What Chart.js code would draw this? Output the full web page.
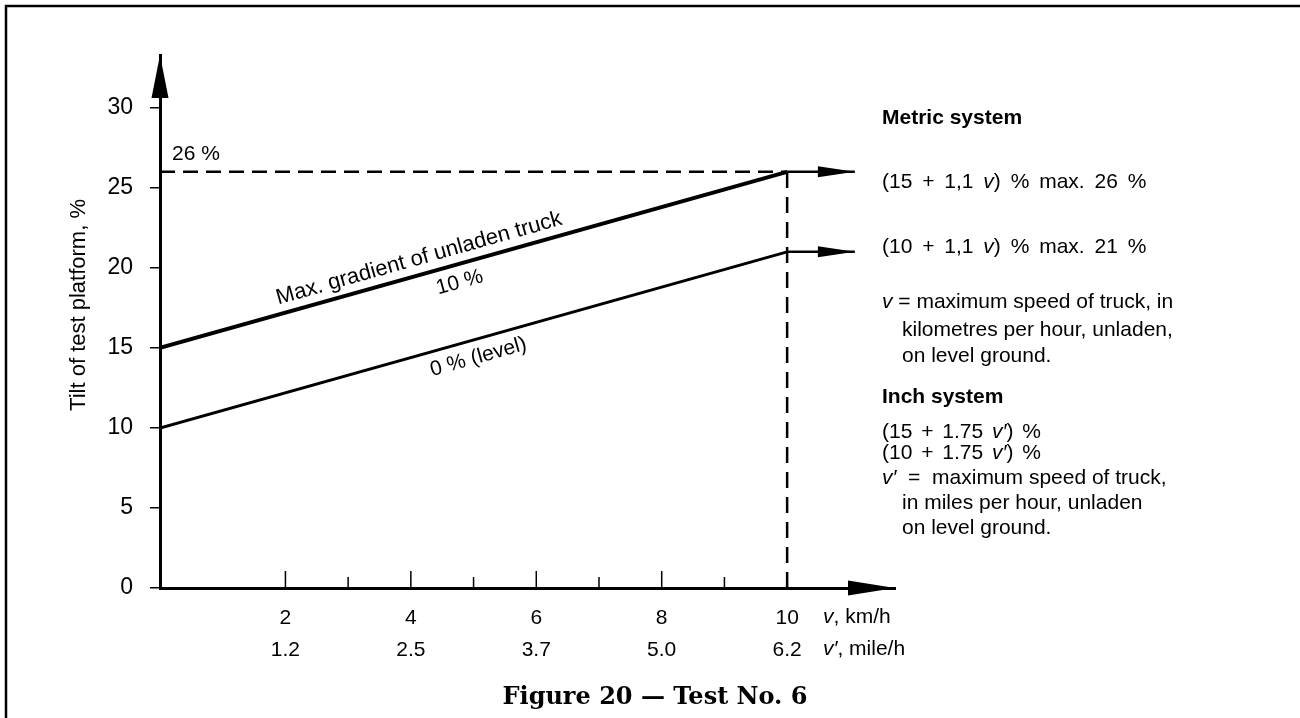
<!DOCTYPE html>
<html>
<head>
<meta charset="utf-8">
<script src="https://cdn.jsdelivr.net/npm/chart.js@4.4.0/dist/chart.umd.min.js"></script>
<style>
  html, body { margin: 0; padding: 0; background: #fff; }
  #wrap { position: relative; width: 1300px; height: 718px; }
</style>
</head>
<body>
<div id="wrap"><canvas id="tiltChart" width="1300" height="718"></canvas></div>
<script>
// speed of truck (km/h) against required tilt of the test platform (%)
const speedKmh = [0, 10];
const tiltMaxGradient = [15, 26];   // (15 + 1,1 v) %, max. 26 %
const tiltLevel = [10, 21];         // (10 + 1,1 v) %, max. 21 %
const capTilt = 26;
const arrowEndKmh = 11.08;          // the horizontal arrows run out to here

// axis ticks: km/h on the first row, mile/h on the second
const xTickKmh = [2, 4, 6, 8, 10];
const xTickMph = ['1.2', '2.5', '3.7', '5.0', '6.2'];
const xMinorKmh = [2, 3, 4, 5, 6, 7, 8, 9];
const yTicks = [0, 5, 10, 15, 20, 25, 30];

const SANS = '"Liberation Sans", Arial, sans-serif';

const pts = (xs, ys) => xs.map((x, i) => ({ x, y: ys[i] }));
const last = a => a[a.length - 1];

function lineDs(data, width, dash) {
  return {
    data,
    borderColor: '#000',
    borderWidth: width,
    borderDash: dash || [],
    pointRadius: 0,
    fill: false,
    tension: 0,
  };
}

// draws "a *v* b" with the starred part in italics
function rich(ctx, str, x, y, size, bold, gap) {
  let cx = x;
  ctx.wordSpacing = (gap || 0) + 'px';
  str.split('*').forEach((t, i) => {
    ctx.font = (i % 2 ? 'italic ' : '') + (bold ? 'bold ' : '') + size + 'px ' + SANS;
    ctx.fillText(t, cx, y);
    cx += ctx.measureText(t).width;
  });
  ctx.wordSpacing = '0px';
}

function arrowHead(ctx, tx, ty, dir, len, half) {
  ctx.beginPath();
  ctx.moveTo(tx, ty);
  if (dir === 'up') {
    ctx.lineTo(tx - half, ty + len);
    ctx.lineTo(tx + half, ty + len);
  } else {
    ctx.lineTo(tx - len, ty - half);
    ctx.lineTo(tx - len, ty + half);
  }
  ctx.closePath();
  ctx.fill();
}

// text laid along a sloped line, offset perpendicular to it
function alongLine(ctx, text, xs, ys, atX, offset, sx, sy, size) {
  const x0 = sx.getPixelForValue(xs[0]), y0 = sy.getPixelForValue(ys[0]);
  const x1 = sx.getPixelForValue(last(xs)), y1 = sy.getPixelForValue(last(ys));
  const ang = Math.atan2(y1 - y0, x1 - x0);
  const px = sx.getPixelForValue(atX);
  const py = y0 + (px - x0) * (y1 - y0) / (x1 - x0);
  ctx.save();
  ctx.translate(px, py);
  ctx.rotate(ang);
  ctx.font = size + 'px ' + SANS;
  ctx.textAlign = 'center';
  ctx.textBaseline = 'middle';
  ctx.fillText(text, 0, offset);
  ctx.restore();
}

const figureDecor = {
  id: 'figureDecor',
  beforeDraw(chart) {
    const ctx = chart.ctx;
    ctx.save();
    ctx.strokeStyle = '#000';
    ctx.lineWidth = 2.5;
    ctx.beginPath();
    ctx.moveTo(6, 718);
    ctx.lineTo(6, 6);
    ctx.lineTo(1300, 6);
    ctx.stroke();
    ctx.restore();
  },
  afterDatasetsDraw(chart) {
    const { ctx, chartArea } = chart;
    const sx = chart.scales.x, sy = chart.scales.y;
    const x0 = sx.getPixelForValue(0), yBase = sy.getPixelForValue(0);
    ctx.save();
    ctx.fillStyle = '#000';
    ctx.strokeStyle = '#000';

    // inner tick marks on the speed axis
    ctx.lineWidth = 1.5;
    xMinorKmh.forEach(v => {
      const px = sx.getPixelForValue(v);
      const h = v % 2 === 0 ? 17 : 11;
      ctx.beginPath();
      ctx.moveTo(px, yBase);
      ctx.lineTo(px, yBase - h);
      ctx.stroke();
    });

    // axis arrow heads
    arrowHead(ctx, x0, chartArea.top, 'up', 43, 8.5);
    arrowHead(ctx, chartArea.right, yBase, 'right', 47, 7.5);
    // arrows at the end of both requirement lines
    [last(tiltMaxGradient), last(tiltLevel)].forEach(t => {
      arrowHead(ctx, sx.getPixelForValue(arrowEndKmh), sy.getPixelForValue(t), 'right', 37, 5.5);
    });

    // labels on the lines
    alongLine(ctx, 'Max. gradient of unladen truck', speedKmh, tiltMaxGradient, 4.2, -16, sx, sy, 22);
    alongLine(ctx, '10 %', speedKmh, tiltMaxGradient, 4.7, 18, sx, sy, 21);
    alongLine(ctx, '0 % (level)', speedKmh, tiltLevel, 5.0, 18, sx, sy, 21);

    ctx.textBaseline = 'middle';
    ctx.textAlign = 'left';
    ctx.font = '21px ' + SANS;
    ctx.fillText(capTilt + ' %', x0 + 12, sy.getPixelForValue(capTilt) - 18);

    // unit labels right of the speed ticks
    rich(ctx, '*v*, km/h', 823, 617, 21);
    rich(ctx, '*v\u2032*, mile/h', 823, 649, 21);

    // axis title
    ctx.save();
    ctx.translate(79, 305);
    ctx.rotate(-Math.PI / 2);
    ctx.textAlign = 'center';
    ctx.font = '22px ' + SANS;
    ctx.fillText('Tilt of test platform, %', 0, 0);
    ctx.restore();

    // notes on the right: text, x, y, bold, extra word gap
    const notes = [
      ['Metric system', 882, 118, true, 0],
      ['(15 + 1,1 *v*) % max. 26 %', 882, 182, false, 4],
      ['(10 + 1,1 *v*) % max. 21 %', 882, 247, false, 4],
      ['*v* = maximum speed of truck, in', 882, 302, false, 0],
      ['kilometres per hour, unladen,', 902, 330, false, 0],
      ['on level ground.', 902, 356, false, 0],
      ['Inch system', 882, 397, true, 0],
      ['(15 + 1.75 *v\u2032*) %', 882, 432, false, 3],
      ['(10 + 1.75 *v\u2032*) %', 882, 453, false, 3],
      ['*v\u2032*  =  maximum speed of truck,', 882, 478, false, 0],
      ['in miles per hour, unladen', 902, 503, false, 0],
      ['on level ground.', 902, 528, false, 0],
    ];
    notes.forEach(([t, x, y, b, g]) => rich(ctx, t, x, y, 21, b, g));

    // figure caption
    ctx.textAlign = 'center';
    ctx.font = 'bold 24px "DejaVu Serif", serif';
    ctx.fillText('Figure 20 \u2014 Test No. 6', 655, 698);
    ctx.restore();
  }
};

new Chart(document.getElementById('tiltChart'), {
  type: 'line',
  data: {
    datasets: [
      lineDs(pts(speedKmh, tiltMaxGradient), 4),
      lineDs(pts(speedKmh, tiltLevel), 3),
      lineDs(pts([last(speedKmh), arrowEndKmh], [last(tiltMaxGradient), last(tiltMaxGradient)]), 2.5),
      lineDs(pts([last(speedKmh), arrowEndKmh], [last(tiltLevel), last(tiltLevel)]), 2.5),
      lineDs(pts([0, last(speedKmh)], [capTilt, capTilt]), 2.5, [15, 8]),
      lineDs(pts([last(speedKmh), last(speedKmh)], [0, capTilt]), 2.5, [16, 9]),
    ]
  },
  options: {
    responsive: false,
    animation: false,
    parsing: false,
    layout: { padding: { left: 20, top: 55, right: 405, bottom: 0 } },
    plugins: {
      legend: { display: false },
      tooltip: { enabled: false },
    },
    scales: {
      x: {
        type: 'linear',
        min: 0,
        max: 11.72,
        afterBuildTicks: s => { s.ticks = xTickKmh.map(v => ({ value: v })); },
        afterFit: s => { s.height = 130; },
        grid: { display: false },
        border: { display: true, color: '#000', width: 3 },
        ticks: {
          color: '#000',
          padding: 6,
          maxRotation: 0,
          autoSkip: false,
          font: { family: SANS, size: 21, lineHeight: 1.52 },
          callback: (v, i) => [String(xTickKmh[i]), xTickMph[i]],
        },
      },
      y: {
        type: 'linear',
        min: 0,
        max: 33.3,
        afterBuildTicks: s => { s.ticks = yTicks.map(v => ({ value: v })); },
        afterFit: s => { s.width = 140; },
        grid: { display: true, drawOnChartArea: false, drawTicks: true, tickLength: 10, color: '#000', lineWidth: 1.5 },
        border: { display: true, color: '#000', width: 3 },
        ticks: {
          color: '#000',
          padding: 17,
          font: { family: SANS, size: 23 },
        },
      },
    },
  },
  plugins: [figureDecor],
});
</script>
</body>
</html>
